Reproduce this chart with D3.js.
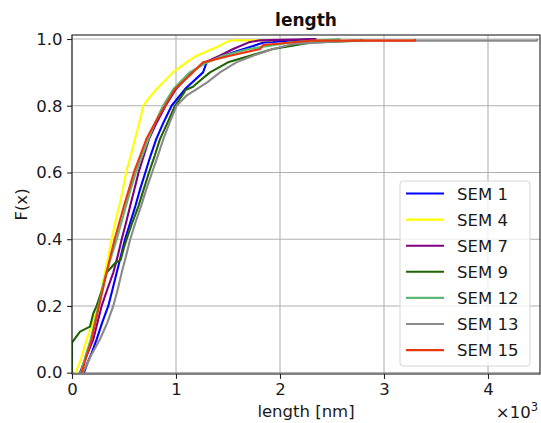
<!DOCTYPE html>
<html>
<head>
<meta charset="utf-8">
<script src="https://cdn.jsdelivr.net/npm/d3@7"></script>
<style>
  html, body { margin: 0; padding: 0; background: #fff; }
  svg { display: block; font-family: "DejaVu Sans", sans-serif; }
</style>
</head>
<body>
<svg id="chart" width="541" height="423"></svg>
<script>
// Empirical CDF of measured lengths, one curve per SEM image.
const seriesNames = ["SEM 1", "SEM 4", "SEM 7", "SEM 9", "SEM 12", "SEM 13", "SEM 15"];
const seriesColors = ["#0000ff", "#ffff00", "#800080", "#1e6400", "#5cb874", "#8a8a8a", "#e8380d"];

// [length in nm, F(x)] knots for each curve
const sem1 = [[115,0],[150,0.03],[190,0.06],[237,0.1],[290,0.15],[349,0.2],[390,0.25],[430,0.3],[470,0.35],[510,0.4],[560,0.45],[610,0.5],[655,0.55],[705,0.6],[755,0.65],[810,0.7],[880,0.75],[958,0.8],[1087,0.85],[1260,0.9],[1295,0.93],[1450,0.95],[1650,0.97],[1850,0.99],[2336,1.0]];
const sem4 = [[38,0],[95,0.05],[141,0.1],[200,0.15],[253,0.2],[317,0.3],[350,0.35],[381,0.4],[415,0.45],[455,0.5],[490,0.55],[520,0.6],[565,0.65],[606,0.7],[647,0.75],[686,0.8],[731,0.82],[814,0.85],[971,0.9],[1100,0.93],[1199,0.95],[1423,0.98],[1480,0.99],[1540,0.996],[1930,0.996],[1930,1.0]];
const sem7 = [[77,0],[140,0.05],[205,0.1],[285,0.2],[340,0.25],[397,0.3],[440,0.35],[478,0.4],[520,0.45],[560,0.5],[600,0.55],[640,0.6],[690,0.65],[740,0.7],[815,0.75],[900,0.8],[1000,0.85],[1150,0.9],[1280,0.93],[1420,0.95],[1550,0.97],[1700,0.99],[1808,0.996],[2350,1.0]];
const sem9 = [[0,0],[0,0.09],[77,0.123],[173,0.138],[205,0.178],[237,0.2],[290,0.25],[333,0.3],[413,0.328],[468,0.338],[495,0.37],[525,0.4],[580,0.45],[640,0.5],[690,0.55],[740,0.6],[795,0.65],[846,0.7],[920,0.75],[990,0.8],[1080,0.84],[1090,0.847],[1163,0.857],[1230,0.875],[1327,0.9],[1500,0.93],[1712,0.95],[1933,0.97],[2300,0.99],[2785,0.995],[2785,1.0]];
const sem12 = [[85,0],[130,0.05],[180,0.1],[255,0.2],[330,0.3],[380,0.35],[430,0.4],[475,0.45],[520,0.5],[565,0.55],[615,0.6],[675,0.65],[735,0.7],[800,0.75],[875,0.8],[975,0.85],[1130,0.9],[1300,0.93],[1450,0.95],[1700,0.97],[2100,0.99],[2580,1.0]];
const sem13 = [[106,0],[180,0.05],[269,0.1],[340,0.15],[397,0.2],[440,0.25],[478,0.3],[520,0.35],[560,0.4],[610,0.45],[665,0.5],[715,0.55],[770,0.6],[825,0.65],[878,0.7],[940,0.75],[1006,0.8],[1100,0.83],[1199,0.85],[1300,0.87],[1423,0.9],[1580,0.93],[1740,0.95],[1933,0.97],[2125,0.985],[2700,0.995],[4470,0.995],[4470,1.0]];
const sem15 = [[93,0],[140,0.05],[189,0.1],[260,0.2],[333,0.3],[370,0.35],[410,0.4],[455,0.45],[500,0.5],[548,0.55],[595,0.6],[655,0.65],[715,0.7],[800,0.75],[894,0.8],[990,0.85],[1163,0.9],[1260,0.93],[1519,0.95],[1808,0.97],[1837,0.982],[2288,0.995],[3298,0.995],[3298,1.0]];
const seriesData = [sem1, sem4, sem7, sem9, sem12, sem13, sem15];

const xTicks = [0, 1000, 2000, 3000, 4000];
const yTicks = [0, 0.2, 0.4, 0.6, 0.8, 1.0];

const svg = d3.select("#chart");
const plotLeft = 72, plotRight = 540, plotTop = 35, plotBottom = 374;
const fs = 16.5;

const x = d3.scaleLinear().domain([0, 4500]).range([plotLeft, plotRight]);
const y = d3.scaleLinear().domain([-0.004, 1.012]).range([plotBottom, plotTop]);

// grid
const grid = svg.append("g");
grid.selectAll(".gx").data(xTicks).join("line")
  .attr("x1", d => x(d)).attr("x2", d => x(d))
  .attr("y1", plotTop).attr("y2", plotBottom)
  .attr("stroke", "#b0b0b0").attr("stroke-width", 1.1);
grid.selectAll(".gy").data(yTicks).join("line")
  .attr("x1", plotLeft).attr("x2", plotRight)
  .attr("y1", d => y(d)).attr("y2", d => y(d))
  .attr("stroke", "#b0b0b0").attr("stroke-width", 1.1);

// curves
svg.append("clipPath").attr("id", "plot-clip")
  .append("rect").attr("x", plotLeft).attr("y", plotTop - 2)
  .attr("width", plotRight - plotLeft).attr("height", plotBottom - plotTop + 4);
const line = d3.line().x(d => x(d[0])).y(d => y(d[1]));
svg.append("g").attr("clip-path", "url(#plot-clip)")
  .selectAll("path").data(seriesData).join("path")
  .attr("d", line)
  .attr("fill", "none")
  .attr("stroke", (d, i) => seriesColors[i])
  .attr("stroke-width", 2.1)
  .attr("stroke-linejoin", "round");

// axes
const xAxis = d3.axisBottom(x).tickValues(xTicks).tickFormat(d => d / 1000).tickSize(4.9).tickPadding(4.5);
const yAxis = d3.axisLeft(y).tickValues(yTicks).tickFormat(d3.format(".1f")).tickSize(4.9).tickPadding(4.5);
const gx = svg.append("g").attr("transform", `translate(0,${plotBottom})`).call(xAxis);
const gy = svg.append("g").attr("transform", `translate(${plotLeft},0)`).call(yAxis);
[gx, gy].forEach(g => {
  g.select(".domain").remove();
  g.selectAll(".tick line").attr("stroke", "#222").attr("stroke-width", 1.1);
  g.selectAll(".tick text").attr("fill", "#1a1a1a").style("font-size", fs + "px").style("font-family", "DejaVu Sans");
});

// frame
svg.append("rect").attr("x", plotLeft).attr("y", plotTop)
  .attr("width", plotRight - plotLeft).attr("height", plotBottom - plotTop)
  .attr("fill", "none").attr("stroke", "#222").attr("stroke-width", 1.1);

// title and labels
svg.append("text").attr("x", (plotLeft + plotRight) / 2).attr("y", 26)
  .attr("text-anchor", "middle").style("font-size", "17px").style("font-weight", "bold")
  .attr("fill", "#111").text("length");
svg.append("text").attr("x", (plotLeft + plotRight) / 2).attr("y", 417)
  .attr("text-anchor", "middle").style("font-size", fs + "px").attr("fill", "#1a1a1a")
  .text("length [nm]");
svg.append("text").attr("transform", `translate(27,${(plotTop + plotBottom) / 2}) rotate(-90)`)
  .attr("text-anchor", "middle").style("font-size", fs + "px").attr("fill", "#1a1a1a")
  .text("F(x)");
const offset = svg.append("text").attr("x", plotRight - 2).attr("y", 418)
  .attr("text-anchor", "end").style("font-size", fs + "px").attr("fill", "#1a1a1a");
offset.append("tspan").text("×10");
offset.append("tspan").attr("dy", -7).style("font-size", "11.5px").text("3");

// legend
const lg = svg.append("g");
lg.append("rect").attr("x", 400).attr("y", 181).attr("width", 130).attr("height", 185)
  .attr("rx", 3).attr("fill", "#fff").attr("fill-opacity", 0.8)
  .attr("stroke", "#d5d5d5").attr("stroke-width", 1);
const items = lg.selectAll(".item").data(seriesNames).join("g")
  .attr("transform", (d, i) => `translate(0,${193.5 + i * 26.1})`);
items.append("line").attr("x1", 406).attr("x2", 444).attr("y1", 0).attr("y2", 0)
  .attr("stroke", (d, i) => seriesColors[i]).attr("stroke-width", 2.1);
items.append("text").attr("x", 457).attr("y", 6).style("font-size", fs + "px")
  .attr("fill", "#1a1a1a").text(d => d);
</script>
</body>
</html>
